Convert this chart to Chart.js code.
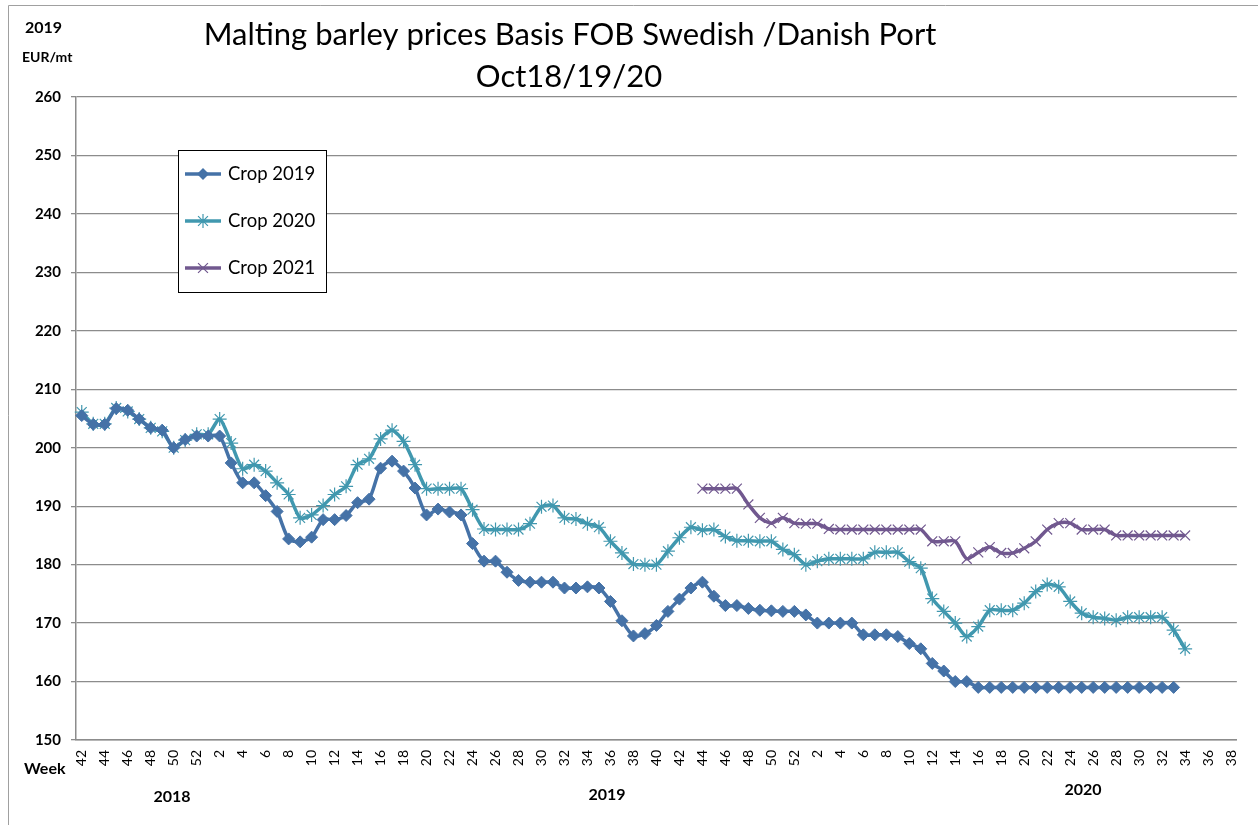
<!DOCTYPE html>
<html>
<head>
<meta charset="utf-8">
<script src="https://cdn.jsdelivr.net/npm/chart.js@4.4.0/dist/chart.umd.min.js"></script>
<style>
  html, body { margin: 0; padding: 0; background: #fff; }
  #wrap { width: 1258px; height: 825px; position: relative; }
</style>
</head>
<body>
<div id="wrap"><canvas id="barley-chart"></canvas></div>
<script>
// week numbers on the x axis (Oct 2018 .. Sep 2020)
const weeks2018 = [42, 43, 44, 45, 46, 47, 48, 49, 50, 51, 52];
const weeks2019 = [1, 2, 3, 4, 5, 6, 7, 8, 9, 10, 11, 12, 13, 14, 15, 16, 17, 18, 19, 20,
    21, 22, 23, 24, 25, 26, 27, 28, 29, 30, 31, 32, 33, 34, 35, 36, 37, 38, 39, 40,
    41, 42, 43, 44, 45, 46, 47, 48, 49, 50, 51, 52];
const weeks2020 = [1, 2, 3, 4, 5, 6, 7, 8, 9, 10, 11, 12, 13, 14, 15, 16, 17, 18, 19, 20,
    21, 22, 23, 24, 25, 26, 27, 28, 29, 30, 31, 32, 33, 34, 35, 36, 37, 38];
const weeks = weeks2018.concat(weeks2019, weeks2020);

// EUR/mt, one value per week starting 2018 week 42
const crop2019 = [
    205.5, 204, 204, 206.7, 206.4, 204.9, 203.4, 203, 200, 201.4,
    202, 202, 202, 197.4, 194, 194, 191.8, 189.1, 184.4, 183.9,
    184.7, 187.7, 187.7, 188.4, 190.6, 191.2, 196.5, 197.7, 196, 193.1,
    188.5, 189.5, 189, 188.5, 183.6, 180.6, 180.6, 178.7, 177.3, 177,
    177, 177, 176, 176, 176.2, 176, 173.7, 170.4, 167.8, 168.2,
    169.6, 172, 174.1, 176, 177, 174.6, 173, 173, 172.5, 172.2,
    172.1, 172, 172, 171.4, 170, 170, 170, 170, 168, 168,
    168, 167.7, 166.5, 165.6, 163.1, 161.8, 160, 160, 159, 159,
    159, 159, 159, 159, 159, 159, 159, 159, 159, 159,
    159, 159, 159, 159, 159, 159
];
const crop2020 = [
    206.1, 204.1, 204.1, 206.8, 206.2, 204.9, 203.4, 202.8, 200, 201.3,
    202.3, 202.3, 204.9, 200.8, 196.4, 197.1, 196, 194, 192, 188,
    188.5, 190.1, 192, 193.4, 197.1, 198.1, 201.5, 203, 201.1, 197.1,
    193, 193, 193, 193, 189.4, 186.1, 186, 186, 186, 187,
    189.9, 190.1, 188, 187.8, 187, 186.4, 184, 182, 180.1, 180,
    180, 182.3, 184.6, 186.4, 185.9, 186, 184.8, 184.1, 184.1, 184,
    184, 182.6, 181.7, 180, 180.6, 181, 181, 181, 181, 182.1,
    182.1, 182.1, 180.5, 179.4, 174.2, 172, 170, 167.7, 169.4, 172.2,
    172.2, 172.2, 173.4, 175.4, 176.6, 176.2, 173.7, 171.7, 171, 170.8,
    170.5, 171, 171, 171, 171, 168.8, 165.6
];
// crop 2021 quotes start in 2019 week 44
const crop2021StartWeek = 44;
const crop2021 = [
    193, 193, 193, 193, 190.3, 188, 187.1, 188, 187.1, 187,
    187, 186.1, 186, 186, 186, 186, 186, 186, 186, 186,
    184, 184, 184, 181, 182.1, 183, 182, 182, 182.8, 184,
    186, 187.1, 187.1, 186, 186, 186, 185, 185, 185, 185,
    185, 185, 185
];
const yearLabels = ['2018', '2019', '2020'];

const crop2021Padded = new Array(weeks2018.length + crop2021StartWeek - 1).fill(null).concat(crop2021);

const FONT = 'Lato, "Open Sans", sans-serif';

function drawMarker(ctx, style, x, y, r, color) {
    ctx.save();
    ctx.strokeStyle = color;
    ctx.fillStyle = color;
    ctx.lineWidth = 1.2;
    ctx.beginPath();
    if (style === 'rectRot') {
        ctx.moveTo(x, y - r); ctx.lineTo(x + r, y); ctx.lineTo(x, y + r); ctx.lineTo(x - r, y);
        ctx.closePath(); ctx.fill();
    } else {
        const d = r * 0.707;
        ctx.moveTo(x - d, y - d); ctx.lineTo(x + d, y + d);
        ctx.moveTo(x + d, y - d); ctx.lineTo(x - d, y + d);
        if (style === 'star') {
            ctx.moveTo(x, y - r); ctx.lineTo(x, y + r);
            ctx.moveTo(x - r, y); ctx.lineTo(x + r, y);
        }
        ctx.stroke();
    }
    ctx.restore();
}

// frame, titles, year labels and the boxed legend
const decorations = {
    id: 'decorations',
    beforeDraw(chart) {
        const ctx = chart.ctx;
        ctx.save();
        ctx.strokeStyle = '#a0a0a0';
        ctx.lineWidth = 1;
        ctx.beginPath();
        ctx.moveTo(8.5, 825); ctx.lineTo(8.5, 5.5); ctx.lineTo(1258, 5.5);
        ctx.stroke();
        ctx.restore();
    },
    afterDraw(chart) {
        const ctx = chart.ctx;
        ctx.save();
        ctx.fillStyle = '#000';
        ctx.textBaseline = 'middle';
        ctx.textAlign = 'center';
        ctx.font = '31px ' + FONT;
        ctx.fillText('Malting barley prices Basis FOB Swedish /Danish Port', 570, 35);
        ctx.fillText('Oct18/19/20', 569, 77);

        ctx.textAlign = 'left';
        ctx.font = 'bold 16px ' + FONT;
        ctx.fillText('2019', 25, 28);
        ctx.font = 'bold 14px ' + FONT;
        ctx.fillText('EUR/mt', 22, 57);
        ctx.font = 'bold 16px ' + FONT;
        ctx.fillText('Week', 24, 769);

        ctx.textAlign = 'center';
        ctx.font = 'bold 16px ' + FONT;
        ctx.fillText(yearLabels[0], 172, 797);
        ctx.fillText(yearLabels[1], 607, 795);
        ctx.fillText(yearLabels[2], 1083, 790);

        // legend box
        ctx.fillStyle = '#fff';
        ctx.fillRect(178.5, 150.5, 148, 142);
        ctx.strokeStyle = '#000';
        ctx.lineWidth = 1;
        ctx.strokeRect(178.5, 150.5, 148, 142);
        const rows = [174, 221, 268];
        chart.data.datasets.forEach((ds, i) => {
            const y = rows[i];
            ctx.strokeStyle = ds.borderColor;
            ctx.lineWidth = 3.5;
            ctx.beginPath();
            ctx.moveTo(185, y); ctx.lineTo(221, y);
            ctx.stroke();
            drawMarker(ctx, ds.pointStyle, 203, y, ds.pointRadius, ds.borderColor);
            ctx.fillStyle = '#000';
            ctx.textAlign = 'left';
            ctx.font = '18.5px ' + FONT;
            ctx.fillText(ds.label, 228, y);
        });
        ctx.restore();
    }
};

const barley_ctx = document.getElementById('barley-chart').getContext('2d');
const barley_chart = new Chart(barley_ctx, {
    type: 'line',
    data: {
        labels: weeks,
        datasets: [{
            label: 'Crop 2019',
            data: crop2019,
            borderColor: '#4572A7',
            backgroundColor: '#4572A7',
            borderWidth: 3.5,
            pointStyle: 'rectRot',
            pointRadius: 6,
            pointBorderWidth: 1,
            pointBackgroundColor: '#4572A7',
            tension: 0.25
        }, {
            label: 'Crop 2020',
            data: crop2020,
            borderColor: '#4198AF',
            backgroundColor: '#4198AF',
            borderWidth: 3.5,
            pointStyle: 'star',
            pointRadius: 7,
            pointBorderWidth: 1.2,
            tension: 0.25
        }, {
            label: 'Crop 2021',
            data: crop2021Padded,
            borderColor: '#71588F',
            backgroundColor: '#71588F',
            borderWidth: 3.5,
            pointStyle: 'crossRot',
            pointRadius: 7,
            pointBorderWidth: 1.2,
            tension: 0.25
        }]
    },
    options: {
        responsive: true,
        maintainAspectRatio: false,
        animation: false,
        events: [],
        layout: {padding: {left: 0, top: 97, right: 19, bottom: 0}},
        plugins: {
            legend: {display: false},
            title: {display: false},
            tooltip: {enabled: false}
        },
        scales: {
            x: {
                offset: true,
                grid: {display: false, drawTicks: false},
                border: {display: true, color: '#8c8c8c', width: 1.5},
                ticks: {
                    autoSkip: false,
                    minRotation: 90,
                    maxRotation: 90,
                    padding: 10,
                    color: '#000',
                    font: {family: FONT, size: 14},
                    callback: function (value) {
                        const w = weeks[value];
                        return w % 2 === 0 ? String(w) : '';
                    }
                },
                afterFit: (scale) => { scale.height = 85; }
            },
            y: {
                min: 150,
                max: 260,
                grid: {color: '#8c8c8c', lineWidth: 1.3, tickLength: 5},
                border: {display: true, color: '#8c8c8c', width: 1.5},
                ticks: {
                    stepSize: 10,
                    padding: 10,
                    color: '#000',
                    font: {family: FONT, size: 15, weight: 'bold'}
                },
                afterFit: (scale) => { scale.width = 76; }
            }
        }
    },
    plugins: [decorations]
});
</script>
</body>
</html>
